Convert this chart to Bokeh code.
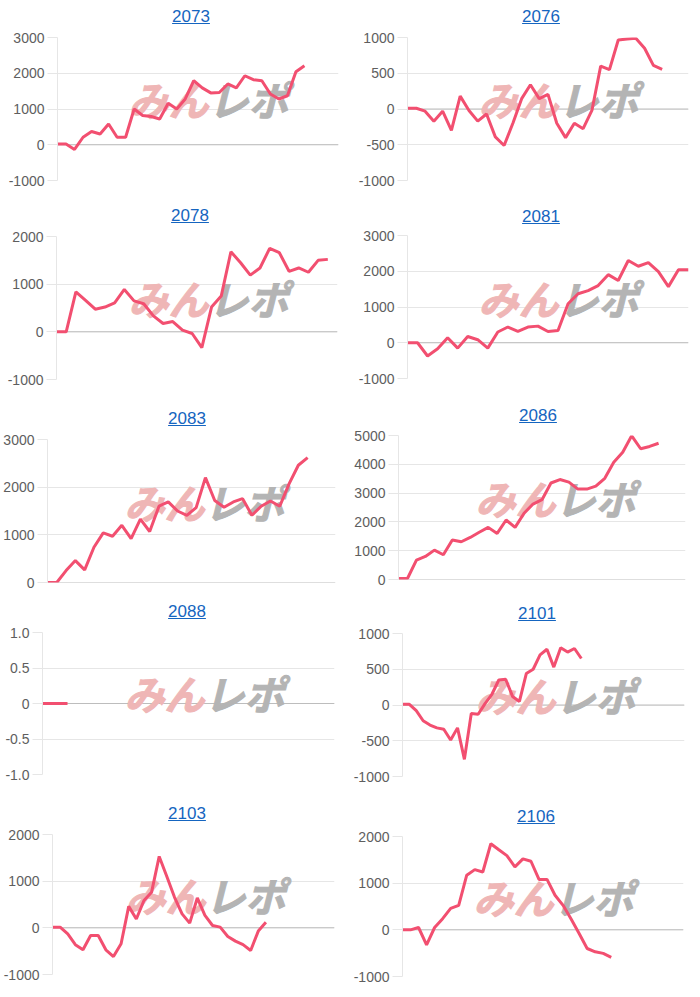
from bokeh.plotting import figure
from bokeh.layouts import row, column
from bokeh.models import Range1d, FixedTicker, CustomJSTickFormatter, Span, Label, Div, ColumnDataSource
from bokeh.embed import file_html
from bokeh.resources import INLINE

# ---------------- data ----------------
titles = ["2073", "2076", "2078", "2081", "2083", "2086", "2088", "2101", "2103", "2106"]

n_labels = {"2073": 34, "2076": 33, "2078": 30, "2081": 29, "2083": 32,
            "2086": 33, "2088": 36, "2101": 42, "2103": 38, "2106": 36}

s2073 = [20, 20, -130, 210, 370, 300, 580, 210, 210, 1000, 820, 790, 720, 1160, 1000,
         1280, 1790, 1590, 1450, 1460, 1700, 1590, 1930, 1820, 1790, 1420, 1280, 1370, 2040, 2210]
s2076 = [10, 10, -30, -170, -30, -300, 180, -20, -170, -70, -390, -510, -200, 145, 340,
         145, 205, -200, -400, -200, -275, -20, 600, 550, 965, 980, 990, 850, 610, 555]
s2078 = [0, 0, 840, 660, 475, 520, 610, 890, 650, 590, 335, 175, 215, 35, -35,
         -330, 520, 750, 1680, 1450, 1190, 1340, 1750, 1660, 1270, 1340, 1250, 1500, 1520]
s2081 = [0, 0, -370, -170, 140, -150, 175, 85, -150, 300, 440, 315, 440, 465, 315,
         345, 1090, 1370, 1460, 1600, 1905, 1740, 2300, 2140, 2240, 1990, 1570, 2040, 2040]
s2083 = [0, 0, 250, 460, 265, 740, 1040, 970, 1200, 920, 1330, 1070, 1600, 1690, 1500,
         1410, 1570, 2200, 1720, 1580, 1690, 1760, 1410, 1600, 1710, 1600, 2070, 2460, 2620]
s2086 = [35, 35, 670, 800, 1020, 860, 1370, 1310, 1460, 1640, 1810, 1600, 2065, 1810, 2300,
         2620, 2770, 3350, 3470, 3380, 3140, 3140, 3240, 3515, 4070, 4420, 4990, 4540, 4620, 4730]
s2088 = [0, 0, 0, 0]
s2101 = [10, 10, -80, -220, -280, -320, -340, -490, -320, -760, -120, -130, 20, 150, 350,
         360, 120, 50, 440, 500, 700, 780, 530, 800, 740, 790, 650]
s2103 = [15, 15, -130, -360, -470, -165, -165, -470, -615, -340, 460, 190, 585, 765, 1530,
         1100, 660, 300, 100, 640, 265, 50, 15, -185, -285, -360, -485, -70, 120]
s2106 = [0, 0, 50, -320, 50, 240, 460, 525, 1170, 1290, 1240, 1845, 1715, 1590, 1350,
         1520, 1470, 1080, 1080, 740, 525, 230, -80, -400, -470, -505, -590]

series = {"2073": s2073, "2076": s2076, "2078": s2078, "2081": s2081, "2083": s2083,
          "2086": s2086, "2088": s2088, "2101": s2101, "2103": s2103, "2106": s2106}

tick_values = {
    "2073": [-1000, 0, 1000, 2000, 3000],
    "2076": [-1000, -500, 0, 500, 1000],
    "2078": [-1000, 0, 1000, 2000],
    "2081": [-1000, 0, 1000, 2000, 3000],
    "2083": [0, 1000, 2000, 3000],
    "2086": [0, 1000, 2000, 3000, 4000, 5000],
    "2088": [-1.0, -0.5, 0, 0.5, 1.0],
    "2101": [-1000, -500, 0, 500, 1000],
    "2103": [-1000, 0, 1000, 2000],
    "2106": [-1000, 0, 1000, 2000],
}
tick_labels = {
    "2073": ["-1000", "0", "1000", "2000", "3000"],
    "2076": ["-1000", "-500", "0", "500", "1000"],
    "2078": ["-1000", "0", "1000", "2000"],
    "2081": ["-1000", "0", "1000", "2000", "3000"],
    "2083": ["0", "1000", "2000", "3000"],
    "2086": ["0", "1000", "2000", "3000", "4000", "5000"],
    "2088": ["-1.0", "-0.5", "0", "0.5", "1.0"],
    "2101": ["-1000", "-500", "0", "500", "1000"],
    "2103": ["-1000", "0", "1000", "2000"],
    "2106": ["-1000", "0", "1000", "2000"],
}

# ---------------- layout geometry (pixels) ----------------
# panel_top, panel_bottom, frame_top, frame_bottom, frame_left, frame_right, title_cx, title_cy, logo_cx, logo_cy
geom = {
    "2073": (0, 200, 37, 180, 57, 338, 191, 17, 208, 98),
    "2078": (200, 400, 236, 379, 56, 337, 190, 216, 208, 297),
    "2083": (400, 600, 439, 582, 47, 335, 187, 419, 204, 501),
    "2088": (600, 800, 632, 774, 42, 334, 187, 612, 204, 692),
    "2103": (800, 997, 834, 974, 52, 334, 187, 814, 205, 894),
    "2076": (0, 200, 37, 180, 57, 338, 191, 17, 208, 98),
    "2081": (200, 400, 235, 378, 57, 338, 191, 217, 208, 297),
    "2086": (400, 600, 435, 579, 48, 335, 188, 416, 205, 497),
    "2101": (600, 800, 633, 776, 52, 334, 187, 614, 205, 694),
    "2106": (800, 997, 836, 976, 52, 333, 186, 817, 203, 896),
}

PANEL_W = 350
GRID = "#e6e6e6"
ZERO = "#bdbdbd"
LINE = "#f24f70"
TITLE_BLUE = "#1565c0"
PINK = "#efb6b6"
GRAY = "#b4b4b4"


def make_panel(name):
    pt, pb, ft, fb, fl, fr, tcx, tcy, lcx, lcy = geom[name]
    vals = series[name]
    ticks = tick_values[name]
    labels = tick_labels[name]
    n = n_labels[name]

    top_pad = 9
    div_h = (ft - pt) - top_pad
    fig_h = (pb - pt) - div_h
    t_top = (tcy - pt) - 9
    html = (
        f'<div style="position:relative;width:{PANEL_W}px;height:{div_h}px;">'
        f'<a style="position:absolute;left:0;top:{t_top}px;width:{2 * tcx}px;'
        f'text-align:center;font-family:\'Liberation Sans\',Arial,sans-serif;'
        f'font-size:17px;line-height:18px;color:{TITLE_BLUE};'
        f'text-decoration:underline;">{name}</a></div>'
    )
    div = Div(text=html, width=PANEL_W, height=div_h, margin=0)

    ymin, ymax = min(ticks), max(ticks)
    p = figure(width=PANEL_W, height=fig_h, output_backend="svg", toolbar_location=None,
               x_range=Range1d(0, n - 1), y_range=Range1d(ymin, ymax),
               x_axis_location=None, title=None,
               min_border_left=fl, min_border_right=PANEL_W - fr,
               min_border_top=top_pad, min_border_bottom=pb - fb,
               outline_line_color=None, margin=0)
    p.background_fill_color = "white"
    p.border_fill_color = "white"
    p.xgrid.visible = False

    ax = p.yaxis[0]
    ax.ticker = FixedTicker(ticks=ticks)
    ax.formatter = CustomJSTickFormatter(
        args=dict(tv=ticks, tl=labels),
        code="for (let i = 0; i < tv.length; i++) { if (Math.abs(tv[i] - tick) < 1e-9) return tl[i]; } return '';")
    ax.axis_line_color = GRID
    ax.major_tick_line_color = GRID
    ax.major_tick_out = 10
    ax.major_tick_in = 0
    ax.minor_tick_line_color = None
    ax.major_label_text_font = "Liberation Sans"
    ax.major_label_text_font_size = "14px"
    ax.major_label_text_color = "#5e5e5e"
    ax.major_label_standoff = 3

    p.ygrid.ticker = FixedTicker(ticks=ticks)
    p.ygrid.grid_line_color = GRID

    p.add_layout(Span(location=0, dimension="width", line_color=ZERO, line_width=1, level="underlay"))

    # watermark (みんレポ)
    xd = (lcx - fl) / (fr - fl) * (n - 1)
    yd = ymax - (lcy - ft) / (fb - ft) * (ymax - ymin)
    for txt, align, col in (("みん", "right", PINK), ("レポ", "left", GRAY)):
        p.add_layout(Label(x=xd, y=yd, text=txt, text_align=align, text_baseline="middle",
                           text_font="Noto Sans CJK JP", text_font_style="bold italic",
                           text_font_size="40px", text_color=col,
                           text_outline_color=col, level="underlay"))

    src = ColumnDataSource(data=dict(x=list(range(len(vals))), y=vals))
    p.line("x", "y", source=src, line_color=LINE, line_width=3)

    return column(div, p, spacing=0, margin=0)


left = column(*[make_panel(t) for t in ["2073", "2078", "2083", "2088", "2103"]], spacing=0, margin=0)
right = column(*[make_panel(t) for t in ["2076", "2081", "2086", "2101", "2106"]], spacing=0, margin=0)
layout = row(left, right, spacing=0, margin=0)

open("out.html", "w").write(file_html(layout, INLINE))
